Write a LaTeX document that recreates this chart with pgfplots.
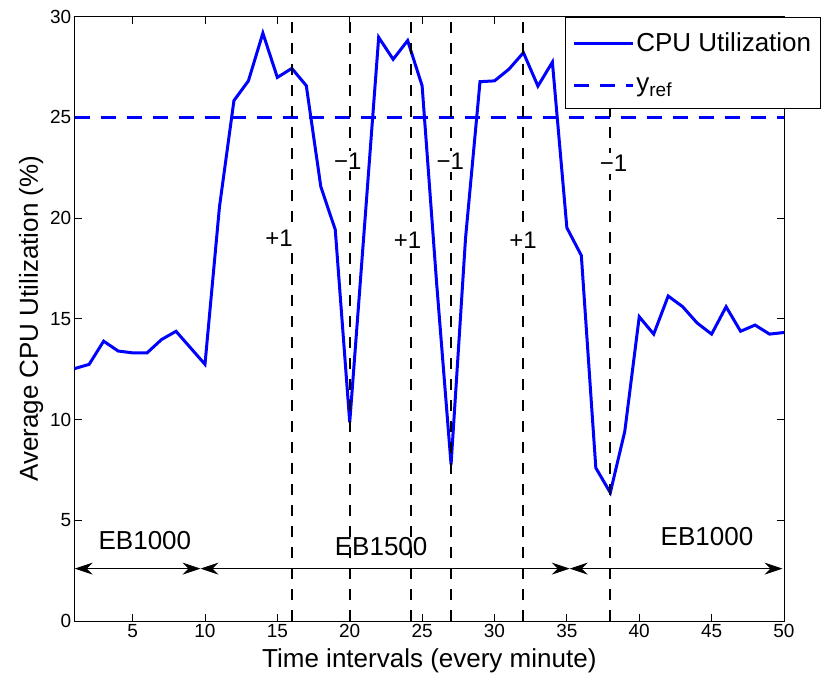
\documentclass[border=0pt]{standalone}
\usepackage{fontspec}
\setmainfont{Liberation Sans}
\usepackage{pgfplots}
\usepackage{pgfplotstable}
\pgfplotsset{compat=1.18}
\usetikzlibrary{arrows.meta}

\pgfplotstableread{
x y
1 12.53
2 12.74
3 13.89
4 13.40
5 13.31
6 13.31
7 13.97
8 14.38
9 13.56
10 12.74
11 20.55
12 25.83
13 26.81
14 29.18
15 26.98
16 27.43
17 26.57
18 21.57
19 19.42
20 9.86
21 19.40
22 28.97
23 27.88
24 28.81
25 26.57
26 16.80
27 7.77
28 19.00
29 26.77
30 26.81
31 27.39
32 28.21
33 26.55
34 27.74
35 19.52
36 18.14
37 7.60
38 6.37
39 9.41
40 15.10
41 14.24
42 16.13
43 15.60
44 14.79
45 14.24
46 15.60
47 14.38
48 14.69
49 14.24
50 14.32
}\cpudata

\begin{document}
\begin{tikzpicture}
\begin{axis}[
 name=ax,
 scale only axis,
 width=709.3pt, height=604.4pt,
 xmin=1, xmax=50, ymin=0, ymax=30,
 xtick={5,10,...,50}, ytick={0,5,...,30},
 tick align=inside,
 major tick length=7pt,
 every tick/.style={black, line width=0.8pt},
 axis line style={line width=1pt},
 ticklabel style={font=\fontsize{19}{19}\selectfont},
 /pgf/number format/assume math mode=true,
 xlabel={Time intervals (every minute)},
 ylabel={Average CPU Utilization (\%)},
 label style={font=\fontsize{26}{26}\selectfont},
 xlabel style={yshift=-4pt},
 legend style={at={(1,1)}, anchor=north east, xshift=36.7pt,
   font=\fontsize{26}{26}\selectfont, draw=black, line width=1pt, fill=white,
   inner xsep=7pt, inner ysep=14pt, row sep=20pt},
 legend cell align=left,
 legend image code/.code={\draw[#1] (0pt,0pt) -- (59pt,0pt);},
 clip=false,
]
\addplot[blue, line width=3pt] table {\cpudata};
\addlegendentry{CPU Utilization}
\addplot[blue, line width=3pt, dash pattern=on 15pt off 11pt] coordinates {(1,25) (50,25)};
\addlegendentry{y\raisebox{-0.4ex}{\fontsize{19}{19}\selectfont ref}}

\addplot[black, line width=2pt, dash pattern=on 11pt off 10pt, forget plot] coordinates {(16,0) (16,30)};
\addplot[black, line width=2pt, dash pattern=on 11pt off 10pt, forget plot] coordinates {(20,0) (20,30)};
\addplot[black, line width=2pt, dash pattern=on 11pt off 10pt, forget plot] coordinates {(24.2,0) (24.2,30)};
\addplot[black, line width=2pt, dash pattern=on 11pt off 10pt, forget plot] coordinates {(27,0) (27,30)};
\addplot[black, line width=2pt, dash pattern=on 11pt off 10pt, forget plot] coordinates {(32,0) (32,30)};
\addplot[black, line width=2pt, dash pattern=on 11pt off 10pt, forget plot] coordinates {(38,0) (38,30)};

\node[fill=white, inner sep=2pt, anchor=east, font=\fontsize{24}{24}\selectfont] at ([xshift=3pt]axis cs:16,19) {+1};
\node[fill=white, inner sep=2pt, font=\fontsize{24}{24}\selectfont] at (axis cs:19.86,22.83) {−1};
\node[fill=white, inner sep=2pt, font=\fontsize{24}{24}\selectfont] at (axis cs:23.99,18.9) {+1};
\node[fill=white, inner sep=2pt, font=\fontsize{24}{24}\selectfont] at (axis cs:26.94,22.8) {−1};
\node[fill=white, inner sep=2pt, font=\fontsize{24}{24}\selectfont] at (axis cs:31.97,18.9) {+1};
\node[fill=white, inner sep=2pt, font=\fontsize{24}{24}\selectfont] at (axis cs:38.23,22.7) {−1};

\draw[black, line width=0.8pt, {Stealth[length=18pt,width=12pt,inset=6pt]}-{Stealth[length=18pt,width=12pt,inset=6pt]}] (axis cs:1,2.6) -- (axis cs:9.69,2.6);
\draw[black, line width=0.8pt, {Stealth[length=18pt,width=12pt,inset=6pt]}-{Stealth[length=18pt,width=12pt,inset=6pt]}] (axis cs:9.69,2.6) -- (axis cs:35.2,2.6);
\draw[black, line width=0.8pt, {Stealth[length=18pt,width=12pt,inset=6pt]}-{Stealth[length=18pt,width=12pt,inset=6pt]}] (axis cs:35.2,2.6) -- (axis cs:49.9,2.6);

\node[font=\fontsize{26}{26}\selectfont] at (axis cs:5.85,4.0) {EB1000};
\node[font=\fontsize{26}{26}\selectfont] at (axis cs:22.17,3.7) {EB1500};
\node[font=\fontsize{26}{26}\selectfont] at (axis cs:44.68,4.2) {EB1000};
\end{axis}
\pgfresetboundingbox
\path[use as bounding box] ([xshift=-74.7pt,yshift=-62pt]ax.south west) rectangle ([xshift=747.3pt,yshift=621pt]ax.south west);
\end{tikzpicture}
\end{document}
